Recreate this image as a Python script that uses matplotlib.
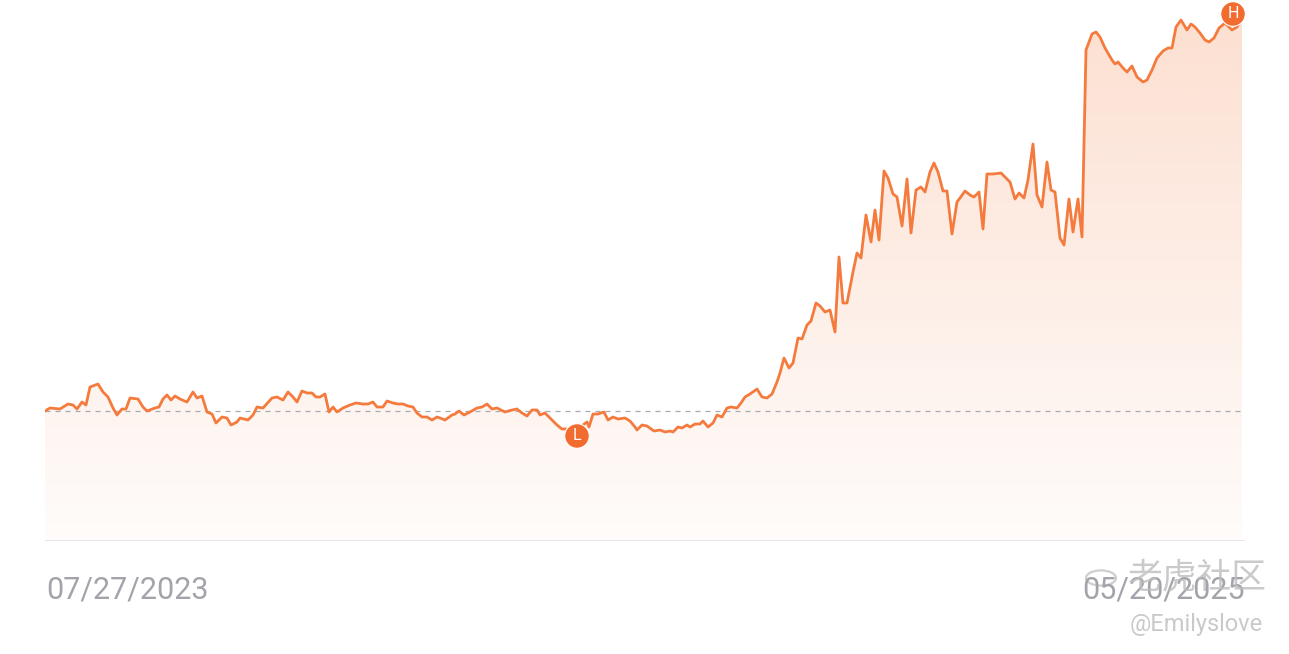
import matplotlib

matplotlib.use("Agg")
import matplotlib.pyplot as plt
import numpy as np
from matplotlib.patches import Circle

# time steps since the first session, and closing price (arbitrary units)
t = [0, 5, 15, 23, 28, 32, 37, 41, 45, 53, 58, 63, 68, 72, 77, 81, 85, 93, 98, 102,
     110, 114, 118, 122, 126, 130, 135, 142, 148, 152, 157, 162, 167, 171, 177, 182, 186, 192, 195, 203,
     208, 212, 218, 227, 232, 238, 243, 248, 252, 257, 262, 267, 271, 275, 280, 284, 288, 292, 298, 305,
     311, 318, 323, 328, 332, 338, 342, 348, 353, 358, 363, 368, 372, 377, 382, 387, 392, 395, 400, 407,
     410, 414, 419, 425, 432, 437, 442, 447, 452, 460, 467, 472, 477, 482, 487, 492, 495, 500, 505, 512,
     517, 521, 531, 538, 542, 544, 548, 553, 559, 563, 568, 573, 580, 585, 590, 592, 597, 602, 609, 615,
     620, 625, 628, 633, 637, 642, 645, 650, 655, 658, 663, 668, 672, 677, 682, 686, 692, 696, 700, 705,
     712, 717, 722, 727, 732, 735, 739, 744, 748, 753, 757, 762, 766, 771, 775, 780, 785, 790, 794, 798,
     802, 808, 812, 816, 821, 826, 830, 834, 839, 843, 848, 852, 857, 862, 866, 871, 876, 880, 885, 889,
     893, 898, 902, 907, 912, 915, 920, 925, 929, 934, 938, 942, 948, 956, 960, 965, 970, 974, 979, 983,
     988, 992, 997, 1002, 1006, 1010, 1015, 1019, 1024, 1028, 1033, 1037, 1041, 1047, 1051, 1055, 1060, 1067, 1070, 1073,
     1078, 1082, 1087, 1092, 1098, 1102, 1107, 1112, 1118, 1123, 1127, 1131, 1136, 1142, 1146, 1150, 1155, 1160, 1164, 1169,
     1174, 1180, 1187, 1192, 1197]
price = [13.0, 13.3, 13.2, 13.7, 13.6, 13.2, 13.9, 13.6, 15.4, 15.7, 14.9, 14.4, 13.3, 12.6, 13.2, 13.2, 14.3, 14.2, 13.4, 13.0,
         13.3, 13.4, 14.2, 14.6, 14.1, 14.5, 14.2, 13.9, 14.9, 14.3, 14.5, 12.9, 12.7, 11.8, 12.4, 12.3, 11.6, 11.9, 12.3, 12.1,
         12.6, 13.4, 13.3, 14.3, 14.4, 14.1, 14.9, 14.4, 13.9, 15.0, 14.8, 14.8, 14.4, 14.4, 14.7, 12.9, 13.4, 12.9, 13.3, 13.6,
         13.8, 13.7, 13.7, 13.9, 13.4, 13.4, 14.0, 13.8, 13.7, 13.7, 13.5, 13.4, 12.8, 12.4, 12.4, 12.1, 12.4, 12.3, 12.1, 12.6,
         12.7, 13.0, 12.6, 12.9, 13.3, 13.4, 13.7, 13.2, 13.3, 12.9, 13.1, 13.2, 12.8, 12.5, 13.1, 13.1, 12.6, 12.8, 12.3, 11.6,
         11.2, 11.2, 10.8, 11.6, 11.9, 11.4, 12.7, 12.7, 12.9, 12.1, 12.4, 12.2, 12.3, 12.0, 11.4, 11.1, 11.6, 11.5, 11.0, 11.1,
         10.9, 11.0, 10.9, 11.4, 11.3, 11.6, 11.4, 11.7, 11.7, 12.0, 11.4, 11.8, 12.6, 12.4, 13.3, 13.4, 13.3, 13.8, 14.4, 14.7,
         15.2, 14.4, 14.3, 14.7, 15.9, 16.8, 18.3, 17.3, 17.8, 20.3, 20.2, 21.6, 22.0, 23.8, 23.5, 22.9, 23.1, 20.9, 28.4, 23.8,
         23.8, 26.9, 28.8, 28.3, 32.6, 29.9, 33.1, 30.1, 37.0, 36.3, 34.7, 34.4, 31.5, 36.2, 30.8, 35.1, 35.4, 34.9, 36.9, 37.8,
         36.9, 35.0, 35.0, 30.7, 33.9, 34.3, 35.0, 34.6, 34.4, 34.9, 31.2, 36.7, 36.7, 36.8, 36.4, 35.9, 34.2, 34.8, 34.3, 36.1,
         39.7, 34.6, 33.4, 37.9, 35.1, 34.9, 30.3, 29.6, 34.2, 30.9, 34.2, 30.4, 49.1, 50.7, 50.9, 50.4, 49.3, 48.1, 47.7, 47.9,
         47.3, 46.9, 47.5, 46.4, 45.9, 46.1, 47.1, 48.3, 49.0, 49.3, 49.3, 51.4, 52.1, 51.1, 51.7, 51.4, 50.8, 50.1, 49.9, 50.3,
         51.3, 51.8, 51.1, 51.4, 52.3]
start_label = "07/27/2023"
end_label = "05/20/2025"

ORANGE = "#F47B3D"
W, H = 1289, 654

fig = plt.figure(figsize=(W / 100, H / 100), dpi=100)
ax = fig.add_axes([45 / W, (H - 541) / H, 1200 / W, (541 - 5) / H])
ax.set_xlim(0, 1200)
ax.set_ylim(0, 53.6)
ax.axis("off")

# gradient area under the line
poly = ax.fill_between(t, price, 0, facecolor="none", edgecolor="none")
grad = np.zeros((256, 1, 4))
grad[:, 0, :3] = matplotlib.colors.to_rgb(ORANGE)
grad[:, 0, 3] = np.linspace(0.24, 0.025, 256)
im = ax.imshow(grad, extent=[0, 1200, 0, 53.6], aspect="auto", origin="upper", zorder=1)
im.set_clip_path(poly.get_paths()[0], transform=ax.transData)

ax.axhline(price[0], color="#a9a9b2", lw=0.9, dashes=(4, 4), zorder=2)
ax.axhline(0, color="#e6e6e8", lw=1.3, zorder=2)
ax.plot(t, price, color=ORANGE, lw=2.0, solid_joinstyle="round", zorder=3)

# high / low badges
for idx, letter, off in [(int(np.argmax(price)), "H", (-9, 4)), (int(np.argmin(price)), "L", (1, -3))]:
    ax.annotate(letter, (t[idx], price[idx]), xytext=off, textcoords="offset pixels",
                ha="center", va="center", color="white", fontsize=11.5, family="Roboto",
                bbox=dict(boxstyle="circle,pad=0.3", fc="#F26B2F", ec="white", lw=0.8),
                zorder=5, annotation_clip=False)

fig.text(46 / W, 1 - 590 / H, start_label, ha="left", va="center", fontsize=22,
         family="Roboto", color="#a3a3ab")
fig.text(1245 / W, 1 - 590 / H, end_label, ha="right", va="center", fontsize=22,
         family="Roboto", color="#a3a3ab")

# watermark
fig.patches.append(Circle((1101 / W, 1 - 578 / H), 15 / W, transform=fig.transFigure,
                          fill=False, ec="#c2c2c2", lw=1.6, alpha=0.8))
fig.text(1197 / W, 1 - 578 / H, "老虎社区", ha="center", va="center", fontsize=25,
         family=["Noto Sans CJK SC", "DejaVu Sans"], color="#bdbdbd", alpha=0.8)
fig.text(1263 / W, 1 - 625 / H, "@Emilyslove", ha="right", va="center", fontsize=17,
         family="Roboto", color="#c4c4c4", alpha=0.9)

fig.savefig("out.png", dpi=100)
